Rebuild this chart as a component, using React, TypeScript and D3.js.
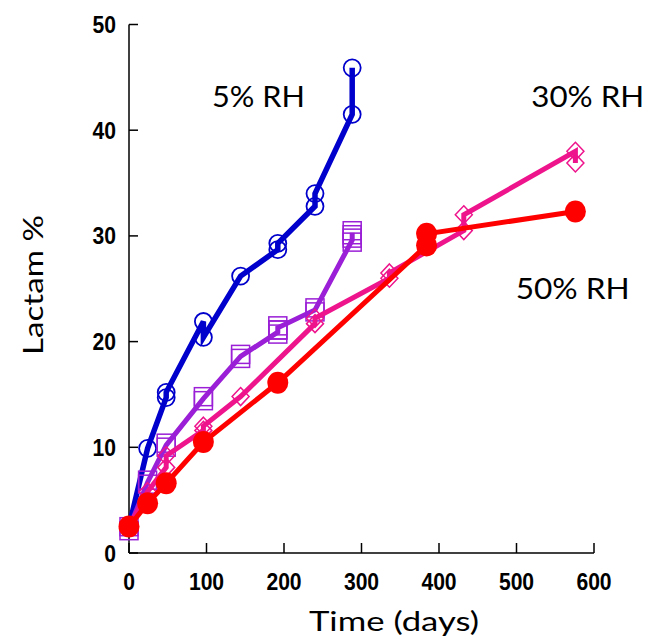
import * as d3 from 'd3'

// [day, lactam %] — replicate points are drawn in sequence, as in the source
const RH5: [number, number][] = [
  [0, 2.5], [24, 9.9], [48, 14.7], [48, 15.2], [96, 21.9], [96, 20.4], [144, 26.2],
  [192, 28.7], [192, 29.3], [240, 32.8], [240, 34.0], [288, 41.5], [288, 45.9],
]
const RH_MID: [number, number][] = [
  [0, 2.3], [24, 6.7], [48, 10.2], [96, 14.6], [144, 18.6], [192, 20.9], [192, 21.3],
  [240, 23.0], [288, 29.6], [288, 30.3],
]
const RH30: [number, number][] = [
  [0, 2.5], [24, 5.8], [48, 8.1], [48, 9.2], [96, 11.6], [96, 12.0], [144, 14.8],
  [240, 21.7], [240, 22.2], [336, 26.0], [336, 26.5], [432, 30.5], [432, 32.0],
  [576, 38.0], [576, 36.9],
]
const RH50: [number, number][] = [
  [0, 2.5], [24, 4.7], [48, 6.6], [96, 10.5], [192, 16.1], [384, 29.1], [384, 30.2], [576, 32.3],
]

const X_TICKS = [0, 100, 200, 300, 400, 500, 600]
const Y_TICKS = [0, 10, 20, 30, 40, 50]

const LABELS = [
  { text: '5% RH', day: 107, val: 42.2, len: 93 },
  { text: '30% RH', day: 519, val: 42.2, len: 113 },
  { text: '50% RH', day: 499, val: 24.0, len: 114 },
]

const W = 647
const H = 643
const x = d3.scaleLinear().domain([0, 600]).range([129, 594])
const y = d3.scaleLinear().domain([0, 50]).range([553, 24.5])
const line = d3.line<[number, number]>().x(d => x(d[0])).y(d => y(d[1]))

const BLUE = '#0000CC'
const PURPLE = '#9A1FD6'
const PINK = '#EE148C'
const RED = '#FF0000'

const tickFont = '"Liberation Sans", Arial, sans-serif'
const textFont = 'Lato, "Open Sans", sans-serif'

export default function App() {
  return (
    <svg width={W} height={H} style={{ position: 'absolute', left: 0, top: 0, background: '#fff' }}>
      {/* axes */}
      <line x1={x(0)} x2={x(0)} y1={y(50)} y2={y(0)} stroke="#000" strokeWidth={1.5} />
      <line x1={x(0)} x2={x(600)} y1={y(0)} y2={y(0)} stroke="#000" strokeWidth={1.5} />
      {Y_TICKS.map(t => (
        <g key={'y' + t}>
          <line x1={x(0)} x2={x(0) + 9} y1={y(t)} y2={y(t)} stroke="#000" strokeWidth={1.5} />
          <text transform={`translate(116,${y(t) + 8.5}) scale(0.88,1)`} textAnchor="end" fontFamily={tickFont} fontWeight="bold" fontSize={24}>{t}</text>
        </g>
      ))}
      {X_TICKS.map(t => (
        <g key={'x' + t}>
          <line x1={x(t)} x2={x(t)} y1={y(0)} y2={y(0) - 10} stroke="#000" strokeWidth={1.5} />
          <text transform={`translate(${x(t)},590) scale(0.88,1)`} textAnchor="middle" fontFamily={tickFont} fontWeight="bold" fontSize={24}>{t}</text>
        </g>
      ))}
      <text x={309} y={631} textLength={170} lengthAdjust="spacingAndGlyphs" fontFamily={textFont} fontSize={27}>Time (days)</text>
      <text transform="translate(43,355) rotate(-90)" textLength={140} lengthAdjust="spacingAndGlyphs" fontFamily={textFont} fontSize={27}>Lactam %</text>

      {LABELS.map(l => (
        <text key={l.text} x={x(l.day)} y={y(l.val)} textLength={l.len} lengthAdjust="spacingAndGlyphs" fontFamily={textFont} fontSize={28}>{l.text}</text>
      ))}

      {/* 5% RH */}
      <path d={line(RH5) ?? ''} fill="none" stroke={BLUE} strokeWidth={5.5} />
      {RH5.map((d, i) => (
        <circle key={'b' + i} cx={x(d[0])} cy={y(d[1])} r={8.5} fill="none" stroke={BLUE} strokeWidth={1.8} />
      ))}

      {/* intermediate RH */}
      <path d={line(RH_MID) ?? ''} fill="none" stroke={PURPLE} strokeWidth={5} />
      {RH_MID.map((d, i) => (
        <g key={'p' + i}>
          <rect x={x(d[0]) - 9} y={y(d[1]) - 11} width={18} height={18} fill="none" stroke={PURPLE} strokeWidth={1.5} />
          <rect x={x(d[0]) - 9} y={y(d[1]) - 7} width={18} height={18} fill="none" stroke={PURPLE} strokeWidth={1.5} />
        </g>
      ))}

      {/* 30% RH */}
      <path d={line(RH30) ?? ''} fill="none" stroke={PINK} strokeWidth={5} />
      {RH30.map((d, i) => {
        const cx = x(d[0]), cy = y(d[1])
        return (
          <path key={'m' + i} d={`M${cx},${cy - 9}L${cx + 8.5},${cy}L${cx},${cy + 9}L${cx - 8.5},${cy}Z`}
            fill="none" stroke={PINK} strokeWidth={1.5} />
        )
      })}

      {/* 50% RH */}
      <path d={line(RH50) ?? ''} fill="none" stroke={RED} strokeWidth={5} />
      {RH50.map((d, i) => (
        <ellipse key={'r' + i} cx={x(d[0])} cy={y(d[1])} rx={10.5} ry={11} fill={RED} />
      ))}
    </svg>
  )
}
